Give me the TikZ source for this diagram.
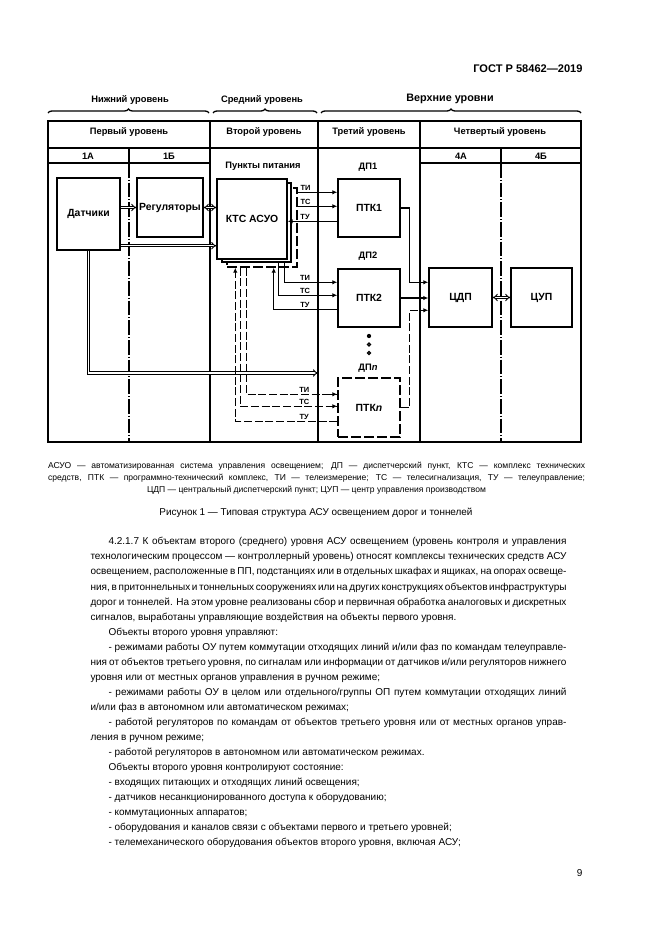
\documentclass[tikz,border=0pt]{standalone}
\usepackage{fontspec}
\setmainfont{Liberation Sans}
\usetikzlibrary{arrows.meta,calc,decorations.pathreplacing}

\tikzset{every picture/.style={line width=0.75pt}}
\newcommand{\jl}[1]{\makebox[357pt][s]{\spaceskip=0.278em plus 0.4em minus 0.12em\relax#1}}
\newcommand{\jlg}[1]{\makebox[402.75pt][s]{#1}}

\begin{document}
\begin{tikzpicture}[x=0.75pt,y=0.75pt,yscale=-1,xscale=1,
  frm/.style={line width=1.1pt},
  frmthick/.style={line width=2.1pt},
  subcol/.style={line width=1.1pt, dash pattern=on 11pt off 1.5pt on 0.75pt off 1.5pt},
  box/.style={draw, line width=1.1pt, fill=white, inner sep=0pt, font=\fontsize{7.8}{9}\selectfont\bfseries},
  dbox/.style={box, dash pattern=on 7.5pt off 2.25pt},
  hdr/.style={inner sep=0pt, font=\fontsize{7}{8}\selectfont\bfseries},
  lbl/.style={inner sep=0.5pt, font=\fontsize{5.6}{6}\selectfont\bfseries},
  sig/.style={line width=1pt, -{Latex[length=3.75pt,width=3.4pt]}},
  dsig/.style={sig, dash pattern=on 6pt off 2pt},
  dbl/.style={double, double distance=1.1pt, line width=0.7pt, -{Implies}},
  brc/.style={decorate, decoration={brace, amplitude=3pt}, line width=1pt},
  txt/.style={inner sep=0pt, align=flush left}
]
%page
\path[use as bounding box, fill=white] (0,0) rectangle (661,935);

% Text Node
\node[anchor=base east, inner sep=0pt, font=\fontsize{8.3}{10}\selectfont\bfseries] (gost) at (583,72) {ГОСТ Р 58462—2019};

%Braces
\draw[brc] (48,113) -- (209,113);
\draw[brc] (213,113) -- (317,113);
\draw[brc] (321,113) -- (581,113);
\node[hdr] (low) at (130,100) {Нижний уровень};
\node[hdr] (mid) at (262,100) {Средний уровень};
\node[hdr, font=\fontsize{8.1}{9}\selectfont\bfseries] (up) at (450,99) {Верхние уровни};

%Table
\draw[frm] (48,121) rectangle (581,442);
\draw[frm] (210,121) -- (210,442);
\draw[frm] (318,121) -- (318,442);
\draw[frm] (420,121) -- (420,442);
\draw[frmthick] (48,148) -- (581,148);
\draw[frm] (48,163) -- (210,163);
\draw[frm] (420,163) -- (581,163);
\draw[frm] (129,148) -- (129,163);
\draw[frm] (501,148) -- (501,163);
\draw[subcol] (129,163) -- (129,442);
\draw[subcol] (501,163) -- (501,442);

% Text Node
\node[hdr] (lev1) at (129,132) {Первый уровень};
\node[hdr] (lev2) at (264,132) {Второй уровень};
\node[hdr] (lev3) at (369,132) {Третий уровень};
\node[hdr] (lev4) at (500,132) {Четвертый уровень};
\node[hdr] (c1a) at (88,156) {1А};
\node[hdr] (c1b) at (169,156) {1Б};
\node[hdr] (c4a) at (461,156) {4А};
\node[hdr] (c4b) at (541,156) {4Б};
\node[hdr] (pp) at (263,166) {Пункты питания};
\node[hdr] (dp1) at (368,167) {ДП1};
\node[hdr] (dp2) at (368,256) {ДП2};
\node[hdr] (dpn) at (368,368) {ДП\textit{n}};

%Boxes
\node[box, minimum width=47.25pt, minimum height=54pt] (sens) at (88.5,214) {Датчики};
\node[box, minimum width=49.5pt, minimum height=44.25pt] (reg) at (170,207.5) {Регуляторы};
\node[dbox, minimum width=52.5pt, minimum height=59.25pt] (ktsC) at (262,227.5) {};
\node[box, minimum width=51.75pt, minimum height=59.25pt] (ktsB) at (256.5,222.5) {};
\node[box, minimum width=52.5pt, minimum height=60pt] (ktsA) at (252,219) {КТС АСУО};
\node[box, minimum width=46.5pt, minimum height=43.5pt] (ptk1) at (369,208) {ПТК1};
\node[box, minimum width=46.5pt, minimum height=43.5pt] (ptk2) at (369,298) {ПТК2};
\node[dbox, minimum width=46.5pt, minimum height=44.25pt] (ptkn) at (369,407.5) {ПТК\textit{n}};
\node[box, minimum width=47.25pt, minimum height=44.25pt] (cdp) at (460.5,297.5) {ЦДП};
\node[box, minimum width=45.75pt, minimum height=44.25pt] (cup) at (541.5,297.5) {ЦУП};

%Dots
\fill (369,336) circle (1.6pt) coordinate (dot1);
\draw[line width=0.9pt] (369,344.5) circle (1.1pt) coordinate (dot2);
\draw[line width=0.9pt] (369,353) circle (1.1pt) coordinate (dot3);

%Ports
\coordinate (ti1) at ($(ptk1.north west)+(0,14)$);
\coordinate (ts1) at ($(ptk1.north west)+(0,28)$);
\coordinate (tu1) at ($(ptk1.north west)+(0,43)$);
\coordinate (ti2) at ($(ptk2.north west)+(0,14)$);
\coordinate (ts2) at ($(ptk2.north west)+(0,27)$);
\coordinate (tu2) at ($(ptk2.north west)+(0,41)$);
\coordinate (tin) at ($(ptkn.north west)+(0,17)$);
\coordinate (tsn) at ($(ptkn.north west)+(0,29)$);
\coordinate (tun) at ($(ptkn.north west)+(0,44)$);
\coordinate (in1) at ($(cdp.north west)+(0,15)$);
\coordinate (inn) at ($(cdp.north west)+(0,43)$);
\coordinate (lvl3) at (318,373);

%Level 1 links
\draw[dbl] (sens.east |- reg.west) -- (reg.west);
\draw[dbl, {Implies}-{Implies}] (reg.east) -- (ktsA.west |- reg.east);
\draw[dbl] ($(sens.south east)+(0,-5)$) -- ($(ktsA.south west)+(0,-14)$);
\draw[dbl] (sens.south) |- (lvl3);

%DP1
\draw[sig] (ktsC.east |- ti1) -- node[lbl, pos=0.2, above] (ti1t) {ТИ} (ti1);
\draw[sig] (ktsC.east |- ts1) -- node[lbl, pos=0.2, above] (ts1t) {ТС} (ts1);
\draw[sig] (tu1) -- node[lbl, pos=0.65, above] (tu1t) {ТУ} (ktsA.east |- tu1);

%DP2
\draw[sig] ($(ktsB.south east)+(-7,0)$) |- node[lbl, pos=0.694, above] (ti2t) {ТИ} (ti2);
\draw[sig] ($(ktsB.south east)+(-13,0)$) |- node[lbl, pos=0.725, above] (ts2t) {ТС} (ts2);
\draw[sig] (tu2) -| node[lbl, pos=0.254, above] (tu2t) {ТУ} ($(ktsB.south east)+(-18,5)$);

%DPn
\draw[dsig, -] ($(ktsC.south west)+(20,0)$) |- node[lbl, pos=0.819, above] (tint) {ТИ} (tin);
\draw[dsig] ($(tin)+(-10,0)$) -- (tin);
\draw[dsig, -] ($(ktsC.south west)+(14,0)$) |- node[lbl, pos=0.83, above] (tsnt) {ТС} (tsn);
\draw[dsig] ($(tsn)+(-10,0)$) -- (tsn);
\draw[dsig] (tun) -| node[lbl, pos=0.162, above] (tunt) {ТУ} ($(ktsC.south west)+(9,0)$);

%To CDP
\draw[sig] (ptk1.east) -- ++(9,0) |- (in1);
\draw[sig] (ptk2.east) -- (cdp.west |- ptk2.east);
\draw[dsig] (ptkn.east) -- ++(9,0) |- (inn);
\draw[dbl, {Implies}-{Implies}] (cdp.east) -- (cup.west);

% Text Node
\node[txt, anchor=north, text width=402.75pt, font=\fontsize{6.4}{9}\selectfont] (legend) at (316.5,462) {%
\jlg{АСУО — автоматизированная система управления освещением; ДП — диспетчерский пункт, КТС — комплекс технических}\\
\jlg{средств, ПТК — программно-технический комплекс, ТИ — телеизмерение; ТС — телесигнализация, ТУ — телеуправление;}\\
\makebox[402.75pt][c]{ЦДП — центральный диспетчерский пункт; ЦУП — центр управления производством}};
% Text Node
\node[inner sep=0pt, font=\fontsize{7.45}{9}\selectfont] (caption) at (316,513) {Рисунок 1 — Типовая структура АСУ освещением дорог и тоннелей};

% Text Node
\node[txt, anchor=north west, text width=357pt, font=\fontsize{7.5}{11.29}\selectfont] (body) at (90,537) {%
\jl{\hspace*{13.5pt}4.2.1.7 К объектам второго (среднего) уровня АСУ освещением (уровень контроля и управления}\\
\jl{технологическим процессом — контроллерный уровень) относят комплексы технических средств АСУ}\\
\jl{освещением, расположенные в ПП, подстанциях или в отдельных шкафах и ящиках, на опорах освеще-}\\
\jl{ния, в притоннельных и тоннельных сооружениях или на других конструкциях объектов инфраструктуры}\\
\jl{дорог и тоннелей. На этом уровне реализованы сбор и первичная обработка аналоговых и дискретных}\\
сигналов, выработаны управляющие воздействия на объекты первого уровня.\\
\hspace*{13.5pt}Объекты второго уровня управляют:\\
\jl{\hspace*{13.5pt}- режимами работы ОУ путем коммутации отходящих линий и/или фаз по командам телеуправле-}\\
\jl{ния от объектов третьего уровня, по сигналам или информации от датчиков и/или регуляторов нижнего}\\
уровня или от местных органов управления в ручном режиме;\\
\jl{\hspace*{13.5pt}- режимами работы ОУ в целом или отдельного/группы ОП путем коммутации отходящих линий}\\
и/или фаз в автономном или автоматическом режимах;\\
\jl{\hspace*{13.5pt}- работой регуляторов по командам от объектов третьего уровня или от местных органов управ-}\\
ления в ручном режиме;\\
\hspace*{13.5pt}- работой регуляторов в автономном или автоматическом режимах.\\
\hspace*{13.5pt}Объекты второго уровня контролируют состояние:\\
\hspace*{13.5pt}- входящих питающих и отходящих линий освещения;\\
\hspace*{13.5pt}- датчиков несанкционированного доступа к оборудованию;\\
\hspace*{13.5pt}- коммутационных аппаратов;\\
\hspace*{13.5pt}- оборудования и каналов связи с объектами первого и третьего уровней;\\
\hspace*{13.5pt}- телемеханического оборудования объектов второго уровня, включая АСУ;};
% Text Node
\node[anchor=base east, inner sep=0pt, font=\fontsize{7.5}{9}\selectfont] (pgno) at (583,876) {9};
\end{tikzpicture}
\end{document}
